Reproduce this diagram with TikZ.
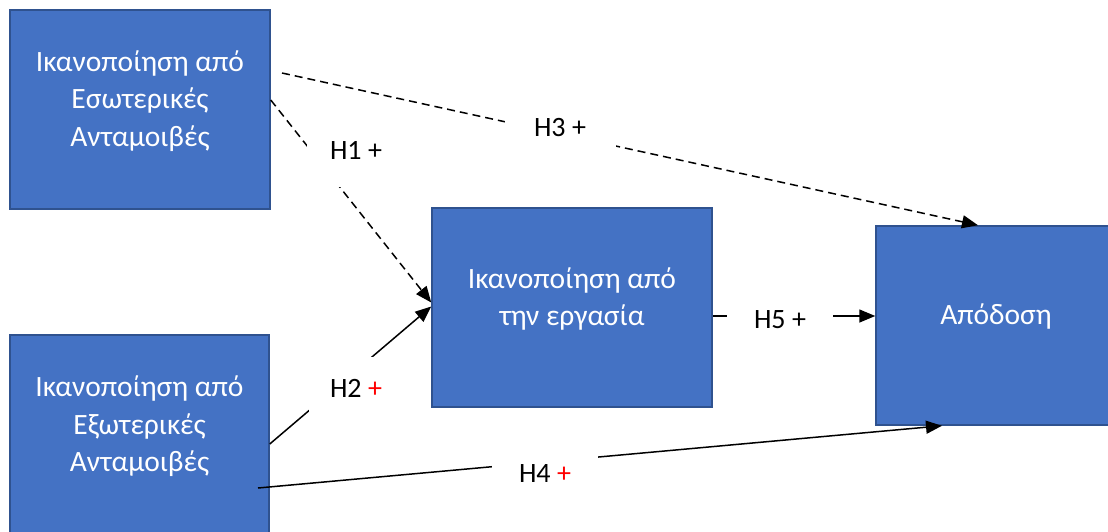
\documentclass[tikz,border=0pt]{standalone}
\usepackage{fontspec}
\setmainfont{Carlito}
\usetikzlibrary{arrows.meta}
\definecolor{boxfill}{HTML}{4472C4}
\definecolor{boxline}{HTML}{2F528F}
\definecolor{plusred}{HTML}{FF0000}

\begin{document}
\begin{tikzpicture}[x=1pt,y=-1pt,
  var/.style={draw=boxline, fill=boxfill, line width=1.5pt, text=white,
    align=center, inner sep=0pt, text depth=22pt,
    font=\fontsize{29.5}{37.5}\selectfont},
  link/.style={line width=1.5pt, -{Triangle[length=16pt,width=13pt]}},
  dashlink/.style={link, dash pattern=on 8pt off 5pt},
  hyp/.style={fill=white, inner sep=0pt, font=\fontsize{28}{34}\selectfont}]
\useasboundingbox (0,0) rectangle (1108,532);
\clip (0,0) rectangle (1108,532);

% variables
\node[var, minimum width=260pt, minimum height=199pt] (intr) at (140,109.5)
  {Ικανοποίηση από\\Εσωτερικές\\Ανταμοιβές};
\node[var, minimum width=259pt, minimum height=200pt] (extr) at (139.5,435)
  {Ικανοποίηση από\\Εξωτερικές\\Ανταμοιβές};
\node[var, minimum width=280pt, minimum height=199pt] (job) at (572,307.5)
  {Ικανοποίηση από\\την εργασία};
\node[var, minimum width=240pt, minimum height=199pt] (perf) at (996,325.5)
  {Απόδοση};

% free ends of the two long paths
\coordinate (h3start) at (282,73);
\coordinate (h4start) at (258,488);

% hypotheses
\draw[dashlink] ([yshift=9.5pt]intr.east) -- ([yshift=5pt]job.west);
\draw[dashlink] (h3start) -- ([xshift=-18pt]perf.north);
\draw[link] ([yshift=-9pt]extr.east) -- ([yshift=1pt]job.west);
\draw[link] ([yshift=-8.5pt]job.east) -- ([yshift=9.5pt]perf.west);
\draw[link] (h4start) -- ([xshift=-54pt]perf.south);

% labels, drawn over the paths
\node[hyp, minimum width=98pt, minimum height=74pt] (l1) at (356,150) {H1 +};
\node[hyp, minimum width=111pt, minimum height=40pt] (l3) at (560,128) {H3 +};
\node[hyp, minimum width=94pt, minimum height=62pt] (l2) at (356,388) {H2 \textcolor{plusred}{+}};
\node[hyp, minimum width=106pt, minimum height=40pt] (l5) at (780,320) {H5 +};
\node[hyp, minimum width=106pt, minimum height=40pt] (l4) at (545,474) {H4 \textcolor{plusred}{+}};
\end{tikzpicture}
\end{document}
